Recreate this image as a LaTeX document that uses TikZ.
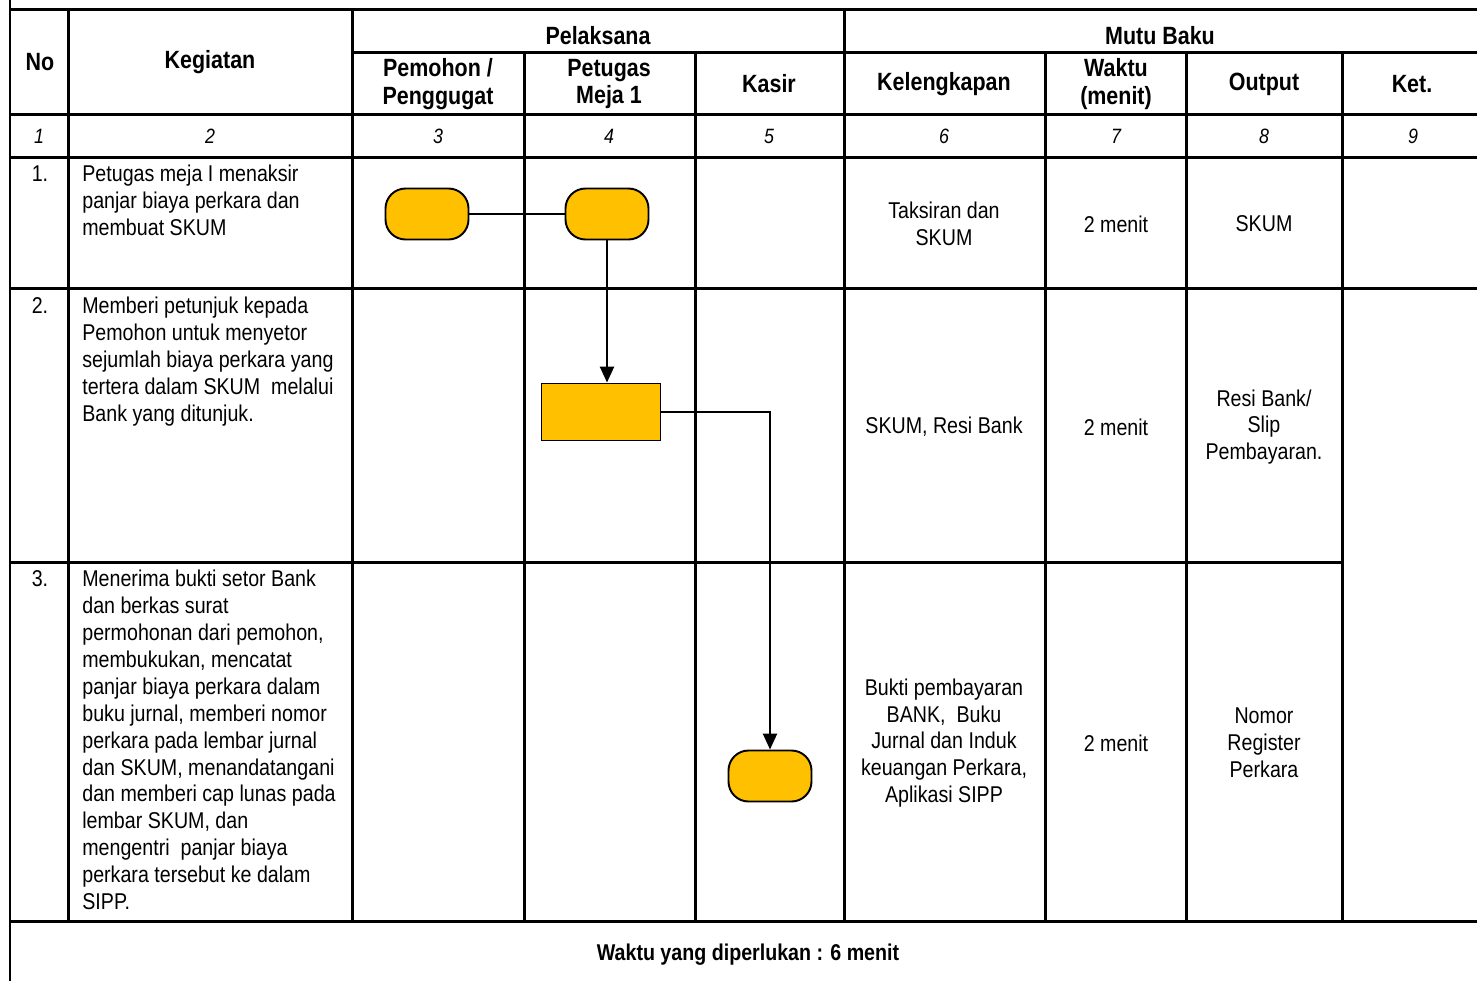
\documentclass[tikz,border=0pt]{standalone}
\usepackage{fontspec}
\setmainfont{Liberation Sans}[FakeStretch=0.86]
\usepackage{tikz}
\usetikzlibrary{arrows.meta, positioning, shapes.misc}
\definecolor{cGold}{HTML}{FFC000}
\tikzset{
    grid/.style={line width=0.06cm, black},
    headtxt/.style={font=\fontsize{14.2}{15.8}\selectfont\bfseries, align=center},
    numtxt/.style={font=\fontsize{11.8}{14}\selectfont\itshape},
    celltxt/.style={font=\fontsize{13}{15.3}\selectfont, align=center},
    lefttxt/.style={font=\fontsize{13}{15.3}\selectfont, align=left, anchor=north west, inner sep=0pt},
    termbox/.style={draw, fill=cGold, line width=1.1pt, rounded corners=0.4cm,
        minimum width=1.66cm, minimum height=1.02cm},
    procbox/.style={draw, fill=cGold, line width=1.1pt, minimum width=2.38cm, minimum height=1.14cm},
    flow/.style={line width=1.4pt, -{Triangle[length=0.32cm, width=0.28cm]}}
}
\begin{document}
\begin{tikzpicture}[x=0.02cm, y=-0.02cm]
    \useasboundingbox (0,0) rectangle (1477,981);
    % table frame
    \draw[grid] (10,0) -- (10,981);
    \draw[grid] (10,9) -- (1477,9);
    \draw[grid] (352,52) -- (1477,52);
    \foreach \y in {114,157,288,921}
        \draw[grid] (10,\y) -- (1477,\y);
    \draw[grid] (10,562) -- (1342,562);
    \foreach \x in {68,352,844}
        \draw[grid] (\x,9) -- (\x,921);
    \foreach \x in {524,695,1045,1186,1342}
        \draw[grid] (\x,52) -- (\x,921);

    % header
    \node[headtxt] (hNo) at (40,62) {No};
    \node[headtxt] (hKeg) at (210,62) {Kegiatan};
    \node[headtxt] (hPel) at (598,36) {Pelaksana};
    \node[headtxt] (hMutu) at (1160,36) {Mutu Baku};
    \node[headtxt] (hPem) at (438,84) {Pemohon /\\Penggugat};
    \node[headtxt] (hPet) at (609,84) {Petugas\\Meja 1};
    \node[headtxt] (hKas) at (769,84) {Kasir};
    \node[headtxt] (hKel) at (944,84) {Kelengkapan};
    \node[headtxt] (hWak) at (1116,84) {Waktu\\(menit)};
    \node[headtxt] (hOut) at (1264,84) {Output};
    \node[headtxt] (hKet) at (1412,84) {Ket.};

    % column numbers
    \foreach \x/\n in {39/1,210/2,438/3,609/4,769/5,944/6,1116/7,1264/8,1413/9}
        \node[numtxt] (n\n) at (\x,136) {\n};

    % row 1
    \node[lefttxt, anchor=north] (r1) at (40,165) {1.};
    \node[lefttxt] (k1) at (82,165) {Petugas meja I menaksir\\panjar biaya perkara dan\\membuat SKUM};
    \node[celltxt] (c1) at (944,224) {Taksiran dan\\SKUM};
    \node[celltxt] (w1) at (1116,224) {2 menit};
    \node[celltxt] (o1) at (1264,224) {SKUM};

    % row 2
    \node[lefttxt, anchor=north] (r2) at (40,297) {2.};
    \node[lefttxt] (k2) at (82,297) {Memberi petunjuk kepada\\Pemohon untuk menyetor\\sejumlah biaya perkara yang\\tertera dalam SKUM\ \ melalui\\Bank yang ditunjuk.};
    \node[celltxt] (c2) at (944,427) {SKUM, Resi Bank};
    \node[celltxt] (w2) at (1116,427) {2 menit};
    \node[celltxt] (o2) at (1264,427) {Resi Bank/\\Slip\\Pembayaran.};

    % row 3
    \node[lefttxt, anchor=north] (r3) at (40,570) {3.};
    \node[lefttxt] (k3) at (82,570) {Menerima bukti setor Bank\\dan berkas surat\\permohonan dari pemohon,\\membukukan, mencatat\\panjar biaya perkara dalam\\buku jurnal, memberi nomor\\perkara pada lembar jurnal\\dan SKUM, menandatangani\\dan memberi cap lunas pada\\lembar SKUM, dan\\mengentri\ \ panjar biaya\\perkara tersebut ke dalam\\SIPP.};
    \node[celltxt] (c3) at (944,743) {Bukti pembayaran\\BANK,\ \ Buku\\Jurnal dan Induk\\keuangan Perkara,\\Aplikasi SIPP};
    \node[celltxt] (w3) at (1116,743) {2 menit};
    \node[celltxt] (o3) at (1264,743) {Nomor\\Register\\Perkara};

    % footer
    \node[headtxt, font=\fontsize{13}{15}\selectfont\bfseries] (foot) at (748,955) {Waktu yang diperlukan : 6 menit};

    % flow
    \node[termbox] (tPem) at (427,214) {};
    \node[termbox] (tPet) at (607,214) {};
    \node[procbox] (pPet) at (601,412) {};
    \node[termbox] (tKas) at (770,776) {};
    \draw[line width=1.4pt] (tPem) -- (tPet);
    \draw[flow] (tPet.south) -- (tPet.south |- pPet.north);
    \draw[flow] (pPet.east) -| (tKas.north);
\end{tikzpicture}
\end{document}
